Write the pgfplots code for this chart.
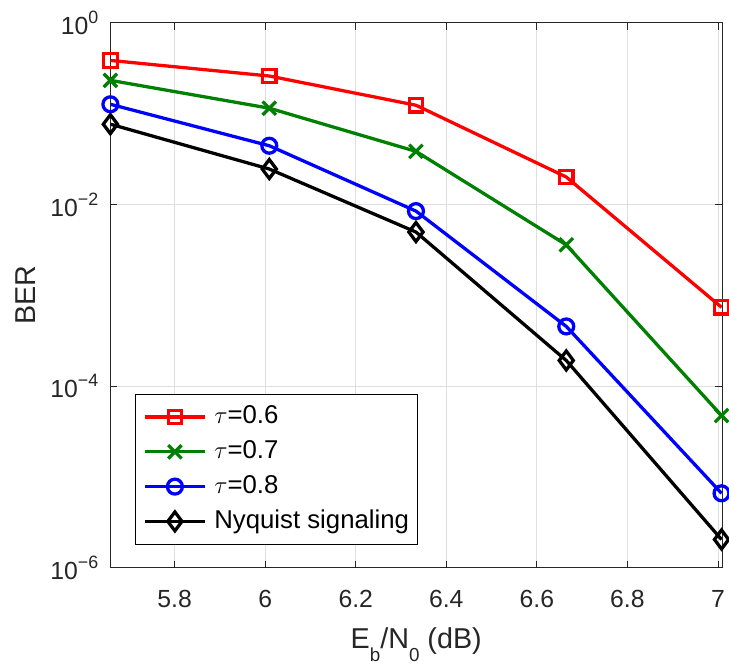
\documentclass[border=0pt]{standalone}
\usepackage{pgfplots}
\pgfplotsset{compat=1.18}
\usepackage{fontspec}
\setmainfont{Liberation Sans}
\definecolor{axgray}{RGB}{38,38,38}
\definecolor{gridgray}{RGB}{222,222,222}
\definecolor{mgreen}{RGB}{0,128,0}
\newcommand\supr[1]{\raisebox{11bp}{\fontsize{18}{18}\selectfont #1}}
\newcommand\subr[1]{\raisebox{-13bp}{\fontsize{19}{19}\selectfont #1}}
\begin{document}
\begin{tikzpicture}
\begin{axis}[
  name=ax,
  scale only axis, width=615bp, height=548bp,
  xmin=5.658, xmax=7.009,
  ymode=log, log basis y=10, ymin=1e-6, ymax=1,
  xtick={5.8,6,6.2,6.4,6.6,6.8,7},
  xticklabels={5.8,6,6.2,6.4,6.6,6.8,7},
  ytick={1e-6,1e-4,1e-2,1},
  yticklabels={10\supr{−6},10\supr{−4},10\supr{−2},10\supr{0}},
  yminorticks=false, xminorticks=false,
  grid=major, major grid style={gridgray, line width=0.8bp},
  axis line style={axgray, line width=0.8bp},
  tick style={axgray, line width=0.8bp},
  tick align=inside, major tick length=7bp,
  ticklabel style={font=\fontsize{25}{28}\selectfont, text=axgray, inner sep=0pt},
  xticklabel style={anchor=base, yshift=-40bp},
  yticklabel style={anchor=east, xshift=-12bp},
  xlabel={E\subr{b}/N\subr{0} (dB)},
  ylabel={BER},
  xlabel style={at={(axis description cs:0.5,-0.1478)}, anchor=base, font=\fontsize{29}{32}\selectfont, text=axgray, inner sep=0pt},
  ylabel style={at={(axis description cs:-0.138,0.5)}, anchor=center, font=\fontsize{29}{32}\selectfont, text=axgray, inner sep=0pt},
  legend cell align=left,
  legend style={at={(axis description cs:0.0407,0.0438)}, anchor=south west, draw=black, fill=white,
    font=\fontsize{26}{30}\selectfont, row sep=10bp, column sep=8bp, inner xsep=8bp, inner ysep=10bp,
    nodes={inner sep=0pt, text height=19.5bp, text depth=5.5bp}},
  legend image code/.code={\draw[mark repeat=2,mark phase=2,#1,line width=3.3bp] plot coordinates {(0bp,0bp) (30bp,0bp) (60bp,0bp)};},
]
\addplot[red, line width=3.3bp, mark=square, mark size=6.8bp, mark options={solid, fill=white, line width=3.3bp}]
  coordinates {(5.658,0.386) (6.009,0.260) (6.333,0.124) (6.665,0.0201) (7.008,7.39e-4)};
\addlegendentry{$\tau$=0.6}
\addplot[mgreen, line width=3.3bp, mark=x, mark size=9.5bp, mark options={solid, line width=3.3bp}]
  coordinates {(5.658,0.233) (6.009,0.115) (6.333,0.0385) (6.665,3.6e-3) (7.008,4.75e-5)};
\addlegendentry{$\tau$=0.7}
\addplot[blue, line width=3.3bp, mark=o, mark size=7.5bp, mark options={solid, fill=white, line width=3.3bp}]
  coordinates {(5.658,0.127) (6.009,0.0444) (6.333,8.47e-3) (6.665,4.55e-4) (7.008,6.62e-6)};
\addlegendentry{$\tau$=0.8}
\addplot[black, line width=3.3bp, mark=diamond, mark size=9.5bp, mark options={solid, fill=white, line width=3.3bp}]
  coordinates {(5.658,0.0767) (6.009,0.0246) (6.333,4.98e-3) (6.665,1.92e-4) (7.008,2.05e-6)};
\addlegendentry{Nyquist signaling\hspace{8bp}}
\end{axis}
\path ([shift={(-111bp,-97bp)}]ax.south west) rectangle ([shift={(3bp,23bp)}]ax.north east);
\end{tikzpicture}
\end{document}
